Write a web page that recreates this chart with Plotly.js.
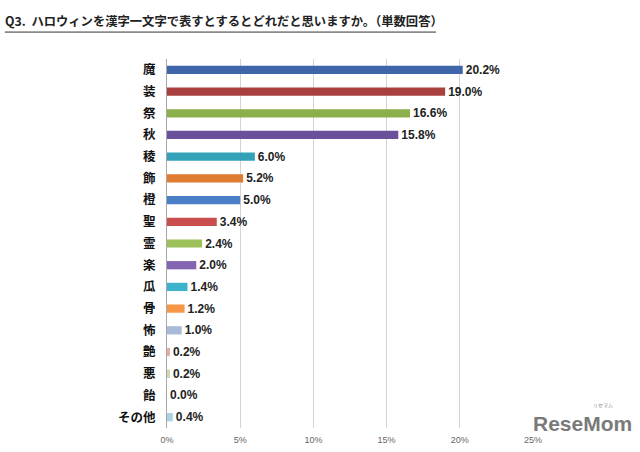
<!DOCTYPE html>
<html>
<head>
<meta charset="utf-8">
<script src="https://cdn.plot.ly/plotly-3.0.1.min.js"></script>
<style>html,body{margin:0;padding:0;background:#fff;}#chart{width:640px;height:452px;}</style>
</head>
<body>
<div id="chart"></div>
<script>
const categories = ["魔","装","祭","秋","稜","飾","橙","聖","霊","楽","瓜","骨","怖","艶","悪","飴","その他"];
const values = [20.2,19.0,16.6,15.8,6.0,5.2,5.0,3.4,2.4,2.0,1.4,1.2,1.0,0.2,0.2,0.0,0.4];
const colors = ["#3E66A8","#A8403E","#8BAF4B","#6A4F9A","#33A1B8","#E07B32","#4A7EC6","#C84F4E","#9CC15B","#8364B0","#3DB3CB","#F79646","#A9B9DA","#E5AAAA","#C9D9B2","#D8C8E0","#A9D3E2"];
const tickVals = [0,5,10,15,20,25];
const tickText = ["0%","5%","10%","15%","20%","25%"];

const trace = {
  type: "bar",
  orientation: "h",
  y: categories,
  x: values,
  marker: {color: colors},
  width: 0.38,
  text: values.map(v => v.toFixed(1) + "%"),
  textposition: "outside",
  constraintext: "none",
  cliponaxis: false,
  textfont: {family: "Liberation Sans, Arial, sans-serif", size: 12, color: "#222", weight: "bold"},
  hoverinfo: "none"
};

const layout = {
  width: 640, height: 452,
  margin: {l: 167, r: 107, t: 59, b: 24},
  paper_bgcolor: "#fff", plot_bgcolor: "#fff",
  showlegend: false,
  bargap: 0.6,
  xaxis: {
    range: [0, 25], tickvals: tickVals, ticktext: tickText,
    showgrid: true, gridcolor: "#D4D4D4", gridwidth: 1,
    zeroline: false, showline: false, ticks: "", ticklabelstandoff: 5,
    tickfont: {family: "Liberation Sans, Arial, sans-serif", size: 9, color: "#666"},
    fixedrange: true
  },
  yaxis: {
    autorange: "reversed", type: "category",
    showline: true, linecolor: "#A8A8A8", linewidth: 1,
    ticks: "", ticklabelstandoff: 8,
    tickfont: {family: "Noto Sans CJK JP, sans-serif", size: 12.5, color: "#111", weight: "bold"},
    fixedrange: true
  },
  title: {
    text: "<b>Q3.  ハロウィンを漢字一文字で表すとするとどれだと思いますか。（単数回答）</b>",
    x: 0.008, xanchor: "left", y: 0.951, yanchor: "middle",
    font: {family: "Noto Sans CJK JP, sans-serif", size: 12.3, color: "#222"}
  },
  shapes: [{
    type: "line", xref: "paper", yref: "paper",
    x0: -0.443, x1: 0.735, y0: 1.073, y1: 1.073,
    line: {color: "#333", width: 1}
  }],
  annotations: [
    {text: "<b>ReseMom</b>", xref: "paper", yref: "paper", x: 1.275, y: -0.025, xanchor: "right", yanchor: "bottom",
     showarrow: false, font: {family: "Liberation Sans, Arial, sans-serif", size: 21, color: "#7a7a7a"}},
    {text: "リセマム", xref: "paper", yref: "paper", x: 1.225, y: 0.045, xanchor: "right", yanchor: "bottom",
     showarrow: false, font: {family: "Noto Sans CJK JP, sans-serif", size: 5, color: "#888"}}
  ]
};

Plotly.newPlot("chart", [trace], layout, {staticPlot: true, displayModeBar: false});
</script>
</body>
</html>
